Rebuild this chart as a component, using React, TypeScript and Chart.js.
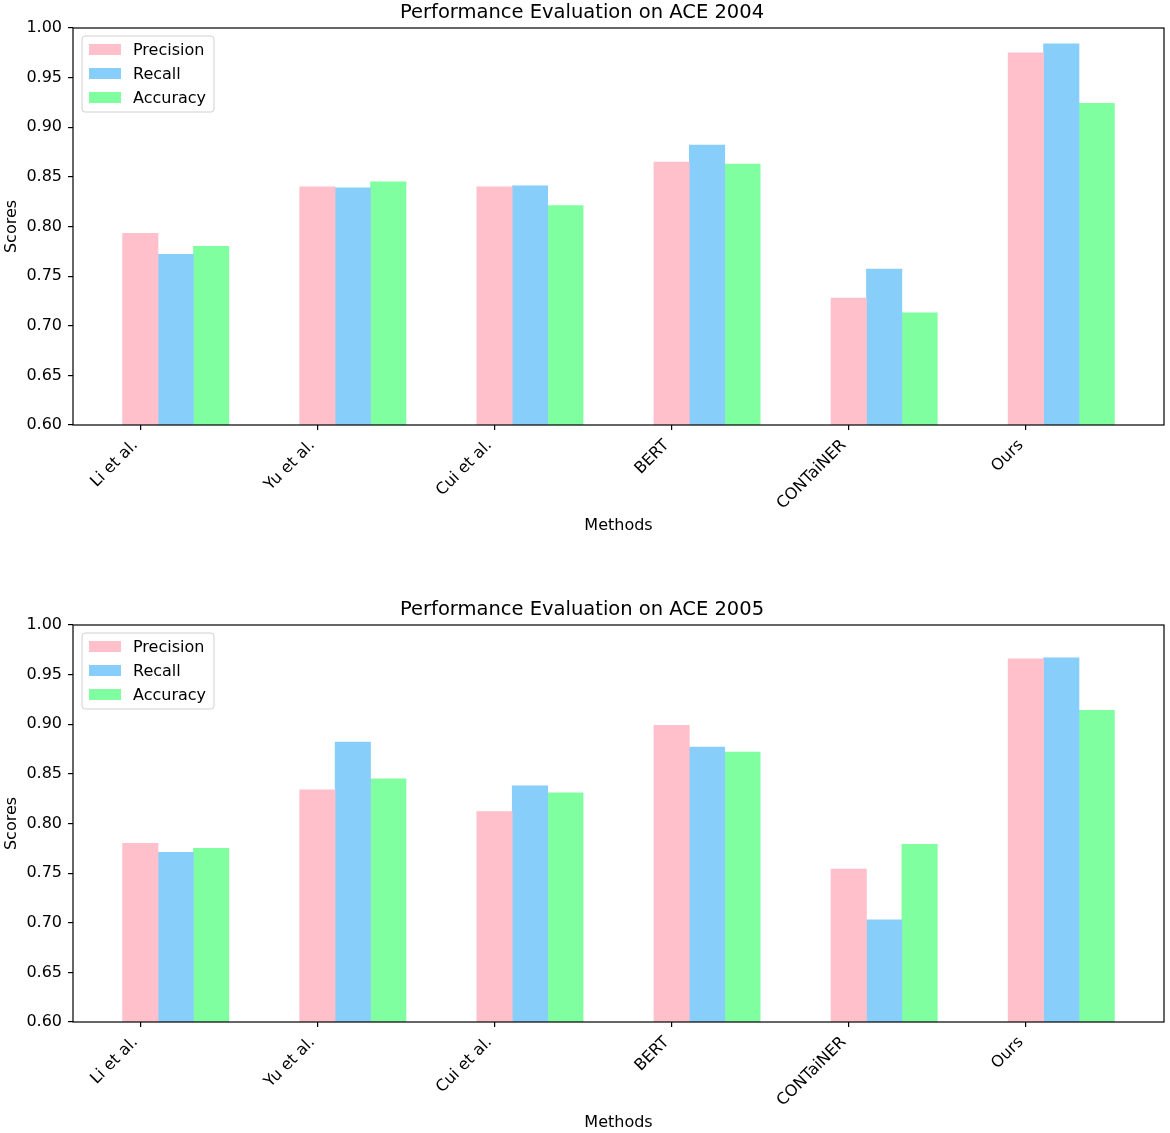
import Chart from "chart.js/auto";
import type { ChartOptions, Plugin } from "chart.js";
import { useRef, useEffect } from "react";

const methods = ["Li et al.", "Yu et al.", "Cui et al.", "BERT", "CONTaiNER", "Ours"];
const seriesNames = ["Precision", "Recall", "Accuracy"];
const seriesColors = ["#FFC0CB", "#87CEFA", "#80FFA0"];

const ace2004Precision = [0.793, 0.84, 0.84, 0.865, 0.728, 0.975];
const ace2004Recall = [0.772, 0.839, 0.841, 0.882, 0.757, 0.984];
const ace2004Accuracy = [0.78, 0.845, 0.821, 0.863, 0.713, 0.924];

const ace2005Precision = [0.78, 0.834, 0.812, 0.899, 0.754, 0.966];
const ace2005Recall = [0.771, 0.882, 0.838, 0.877, 0.703, 0.967];
const ace2005Accuracy = [0.775, 0.845, 0.831, 0.872, 0.779, 0.914];

const FONT = "'DejaVu Sans', sans-serif";
const BAR_WIDTH = 0.2;

// box around the axes + matplotlib-like legend in the upper left
const framePlugin: Plugin<"bar"> = {
  id: "frameAndLegend",
  afterDraw(chart) {
    const { ctx, chartArea: ca } = chart;
    ctx.save();
    ctx.strokeStyle = "#000";
    ctx.lineWidth = 1.2;
    ctx.strokeRect(ca.left, ca.top, ca.right - ca.left, ca.bottom - ca.top);

    const lx = ca.left + 9;
    const ly = ca.top + 8;
    const lw = 132;
    const lh = 76;
    ctx.beginPath();
    ctx.roundRect(lx, ly, lw, lh, 3);
    ctx.fillStyle = "rgba(255,255,255,0.8)";
    ctx.fill();
    ctx.strokeStyle = "#d0d0d0";
    ctx.lineWidth = 1;
    ctx.stroke();

    ctx.font = `16px ${FONT}`;
    ctx.textBaseline = "middle";
    ctx.textAlign = "left";
    seriesNames.forEach((name, i) => {
      const cy = ly + 13.5 + i * 24;
      ctx.fillStyle = seriesColors[i];
      ctx.fillRect(lx + 7, cy - 5.5, 32, 11);
      ctx.fillStyle = "#000";
      ctx.fillText(name, lx + 51, cy + 1);
    });
    ctx.restore();
  },
};

interface PanelProps {
  title: string;
  series: number[][];
  top: number;
}

const ChartPanel: React.FC<PanelProps> = ({ title, series, top }) => {
  const canvasRef = useRef<HTMLCanvasElement>(null);
  const chartInstance = useRef<Chart<"bar">>();

  useEffect(() => {
    if (!canvasRef.current) return;

    const datasets = series.map((vals, k) => ({
      label: seriesNames[k],
      data: vals.map((v, i) => ({ x: i + k * BAR_WIDTH, y: v })),
      backgroundColor: seriesColors[k],
      borderWidth: 0,
      grouped: false,
      categoryPercentage: 1,
      barPercentage: 1,
    }));

    const options: ChartOptions<"bar"> = {
      responsive: false,
      animation: false,
      layout: { padding: { left: 0, right: 6, top: 0, bottom: 0 } },
      plugins: {
        legend: { display: false },
        tooltip: { enabled: false },
        title: {
          display: true,
          text: title,
          color: "#000",
          font: { family: FONT, size: 19.5, weight: "normal" },
          padding: { top: 1.3, bottom: 3.3 },
        },
      },
      scales: {
        x: {
          type: "linear",
          min: -0.38,
          max: 5.78,
          offset: false,
          afterBuildTicks: (axis) => {
            axis.ticks = methods.map((_, i) => ({ value: i }));
          },
          afterFit: (scale) => {
            scale.height = 111;
          },
          grid: {
            offset: false,
            drawOnChartArea: false,
            drawTicks: true,
            tickLength: 5,
            lineWidth: 1.2,
            color: "#000",
          },
          border: { display: false },
          ticks: {
            autoSkip: false,
            maxRotation: 45,
            minRotation: 45,
            padding: 6,
            labelOffset: -5,
            color: "#000",
            font: { family: FONT, size: 16 },
            callback: (value) => methods[Number(value)] ?? "",
          },
          title: {
            display: true,
            text: "Methods",
            color: "#000",
            font: { family: FONT, size: 16 },
            padding: { top: 4, bottom: 0.5 },
          },
        },
        y: {
          min: 0.6,
          max: 1.0,
          afterFit: (scale) => {
            scale.width = 73;
          },
          grid: {
            drawOnChartArea: false,
            drawTicks: true,
            tickLength: 5,
            lineWidth: 1.2,
            color: "#000",
          },
          border: { display: false },
          ticks: {
            stepSize: 0.05,
            padding: 6,
            color: "#000",
            font: { family: FONT, size: 16 },
            callback: (value) => Number(value).toFixed(2),
          },
          title: {
            display: true,
            text: "Scores",
            color: "#000",
            font: { family: FONT, size: 16 },
            padding: { top: 2, bottom: 4 },
          },
        },
      },
    };

    if (chartInstance.current) chartInstance.current.destroy();
    chartInstance.current = new Chart(canvasRef.current, {
      type: "bar",
      data: { datasets },
      options,
      plugins: [framePlugin],
    });

    return () => {
      if (chartInstance.current) {
        chartInstance.current.destroy();
        chartInstance.current = undefined;
      }
    };
  }, [title, series]);

  return (
    <canvas
      ref={canvasRef}
      width={1170}
      height={536}
      style={{ position: "absolute", left: 0, top, width: 1170, height: 536 }}
    ></canvas>
  );
};

const series2004 = [ace2004Precision, ace2004Recall, ace2004Accuracy];
const series2005 = [ace2005Precision, ace2005Recall, ace2005Accuracy];

export default function App() {
  return (
    <div
      style={{
        position: "absolute",
        left: 0,
        top: 0,
        width: 1170,
        height: 1133,
        background: "#fff",
      }}
    >
      <ChartPanel title="Performance Evaluation on ACE 2004" series={series2004} top={0} />
      <ChartPanel title="Performance Evaluation on ACE 2005" series={series2005} top={597} />
    </div>
  );
}
